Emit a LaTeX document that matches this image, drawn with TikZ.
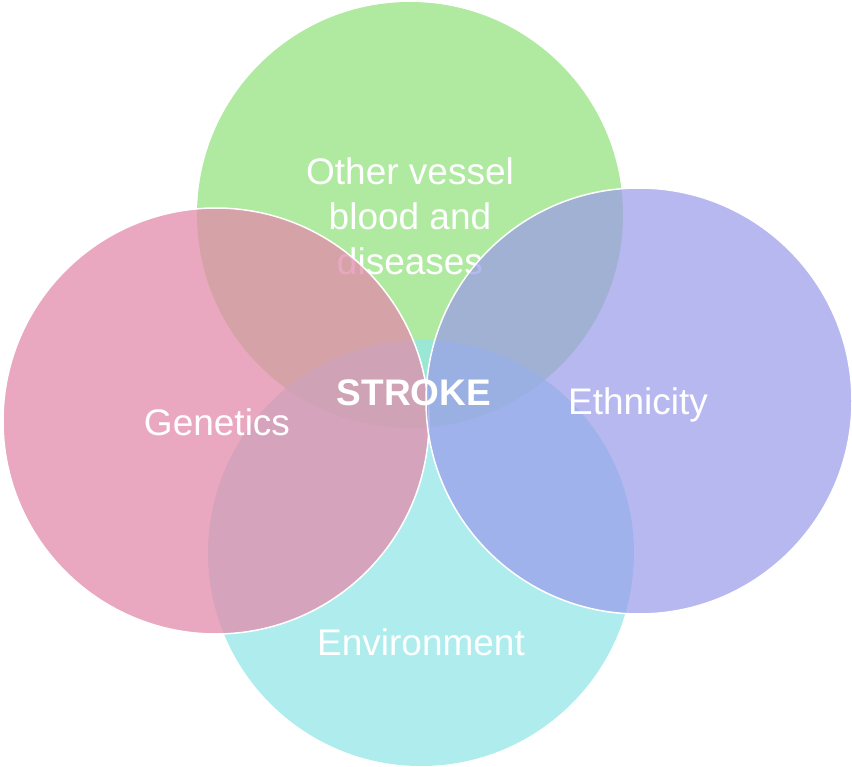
\documentclass[tikz,border=0pt]{standalone}
\usepackage{fontspec}
\setmainfont{Liberation Sans}
\usetikzlibrary{positioning}
\definecolor{vgreen}{RGB}{175,234,160}
\definecolor{vcyan}{RGB}{147,230,232}
\definecolor{vpink}{RGB}{226,139,171}
\definecolor{vpurple}{RGB}{154,154,234}
\begin{document}
\begin{tikzpicture}[x=1pt,y=-1pt,
		blob/.style={circle, inner sep=0pt, minimum size=426pt},
		rim/.style={draw=white, line width=1.5pt},
		lbl/.style={text=white, font=\fontsize{37}{45}\selectfont, align=center}]
			\useasboundingbox (0,0) rectangle (852,767);
			\node[blob, fill=vgreen] (vessel) at (410,215) {};
			\node[blob, fill=vcyan, fill opacity=0.75] (environment) at (421,553) {};
			\node[lbl] (vesseltext) at (410,216) {Other vessel\\blood and\\diseases};
			\node[blob, rim, fill=vpink, fill opacity=0.75] (genetics) at (216,421) {};
			\node[blob, rim, fill=vpurple, fill opacity=0.7] (ethnicity) at (639,401) {};
			% labels on top
			\node[lbl] (geneticstext) at (217,422) {Genetics};
			\node[lbl] (ethnicitytext) at (638,405) {Ethnicity};
			\node[lbl] (environmenttext) at (421,642) {Environment};
			\node[lbl, font=\fontsize{37}{45}\selectfont\bfseries] (stroke) at (414,393) {STROKE};
		\end{tikzpicture}
\end{document}
